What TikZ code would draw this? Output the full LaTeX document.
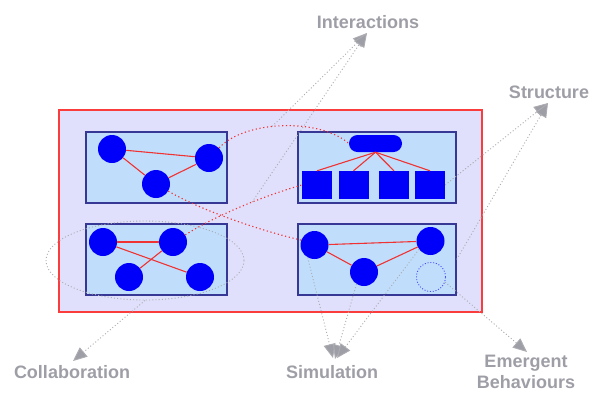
\documentclass[tikz,border=0pt]{standalone}
\usepackage{fontspec}
\setmainfont{Liberation Sans}
\usetikzlibrary{arrows.meta,shapes.geometric}

\definecolor{panelfill}{RGB}{224,224,252}
\definecolor{panelline}{RGB}{250,60,60}
\definecolor{boxfill}{RGB}{192,222,252}
\definecolor{boxline}{RGB}{55,55,150}
\definecolor{agent}{RGB}{0,0,250}
\definecolor{link}{RGB}{240,50,50}
\definecolor{hint}{RGB}{172,172,178}
\definecolor{tagcol}{RGB}{158,158,166}

\begin{document}
\begin{tikzpicture}[x=1pt,y=-1pt,
  panel/.style={draw=panelline,fill=panelfill,line width=1.2pt},
  grp/.style={draw=boxline,fill=boxfill,line width=1.3pt,inner sep=0pt,
    minimum width=141pt,minimum height=71pt},
  widegrp/.style={grp,minimum width=158pt},
  agentnode/.style={circle,fill=agent,inner sep=0pt,minimum size=28pt},
  ghost/.style={circle,draw=agent!70,line width=0.9pt,
    dash pattern=on 1pt off 1.8pt,inner sep=0pt,minimum size=29pt},
  unit/.style={rectangle,fill=agent,inner sep=0pt,minimum width=30pt,minimum height=28pt},
  lead/.style={rectangle,fill=agent,rounded corners=8.5pt,inner sep=0pt,
    minimum width=53pt,minimum height=17pt},
  edge/.style={draw=link,line width=1.1pt},
  relation/.style={draw=link,line width=1.1pt,dash pattern=on 1.2pt off 2.6pt},
  hintline/.style={draw=hint,line width=0.9pt,dash pattern=on 1pt off 2.2pt,
    -{Triangle[length=14pt,width=12pt,fill=tagcol]}},
  ring/.style={ellipse,draw=hint,line width=0.9pt,dash pattern=on 1pt off 2.2pt,
    inner sep=0pt,minimum width=198pt,minimum height=79pt},
  tag/.style={text=tagcol,font=\fontsize{18}{21}\selectfont\bfseries,inner sep=0pt}
]
\useasboundingbox (0,0) rectangle (597,392);

% outer panel
\draw[panel] (59,110) rectangle (482,312);

% four groups
\node[grp] (tlbox) at (156.5,167.5) {};
\node[grp] (blbox) at (156.5,259.5) {};
\node[widegrp] (trbox) at (377,167.5) {};
\node[widegrp] (brbox) at (377,259.5) {};

% top-left group
\node[agentnode] (tl1) at (112,149) {};
\node[agentnode] (tl2) at (209,158) {};
\node[agentnode] (tl3) at (156,184) {};
\draw[edge] (tl1) -- (tl2);
\draw[edge] (tl1) -- (tl3);
\draw[edge] (tl3) -- (tl2);

% bottom-left group
\node[agentnode] (bl1) at (103,242) {};
\node[agentnode] (bl2) at (173,242) {};
\node[agentnode] (bl3) at (129,277) {};
\node[agentnode] (bl4) at (200,277) {};
\draw[edge] (bl1) -- (bl2);
\draw[edge] (bl1) -- (bl4);
\draw[edge] (bl3) -- (bl2);

% top-right hierarchy
\node[lead] (pill) at (375.5,143.5) {};
\node[unit] (sq1) at (317,185) {};
\node[unit] (sq2) at (353.5,185) {};
\node[unit] (sq3) at (394,185) {};
\node[unit] (sq4) at (430,185) {};
\foreach \s in {sq1,sq2,sq3,sq4}
  \draw[edge] (pill.south) -- (\s.north);

% bottom-right group
\node[agentnode] (br1) at (314.5,245) {};
\node[agentnode] (br2) at (430.5,241) {};
\node[agentnode] (br3) at (364,272) {};
\node[ghost] (dc) at (431,277) {};
\draw[edge] (br1) -- (br2);
\draw[edge] (br1) -- (br3);
\draw[edge] (br3) -- (br2);

% collaboration ring
\node[ring] (coll) at (145,260.5) {};

% interaction links between groups
\draw[relation] (tl2.45) .. controls (245,120) and (320,118) .. (pill.west)
  coordinate[pos=0.43] (ia);
\draw[relation] (tl3.-30) .. controls (195,207) and (250,228) .. (br1.160);
\draw[relation] (bl2.30) .. controls (205,222) and (250,200) .. (sq1.west)
  coordinate[pos=0.66] (ib);

% labels
\node[tag,anchor=base] (tInt) at (368,28) {Interactions};
\node[tag,anchor=base] (tStr) at (549,98) {Structure};
\node[tag,anchor=base] (tCol) at (72,378) {Collaboration};
\node[tag,anchor=base] (tSim) at (332,378) {Simulation};
\node[tag,align=center] (tEme) at (526,372) {Emergent\\Behaviours};

% arrow tips
\coordinate (tipI) at (367,33);
\coordinate (tipS) at (548,103);
\coordinate (tipC) at (73,361);
\coordinate (tipM1) at (333,358);
\coordinate (tipM2) at (335,359);
\coordinate (tipM3) at (337,358);
\coordinate (tipE) at (527,352);

% pointers to the labels
\draw[hintline] (ia) -- (tipI);
\draw[hintline] (ib) -- (tipI);
\draw[hintline] (sq4.east) -- (tipS);
\draw[hintline] (brbox.east) -- (tipS);
\draw[hintline] (coll.south) -- (tipC);
\draw[hintline] (br1.-119) -- (tipM1);
\draw[hintline] (br3.-122) -- (tipM2);
\draw[hintline] (br2.-144) -- (tipM3);
\draw[hintline] (dc.-20) -- (tipE);
\end{tikzpicture}
\end{document}
